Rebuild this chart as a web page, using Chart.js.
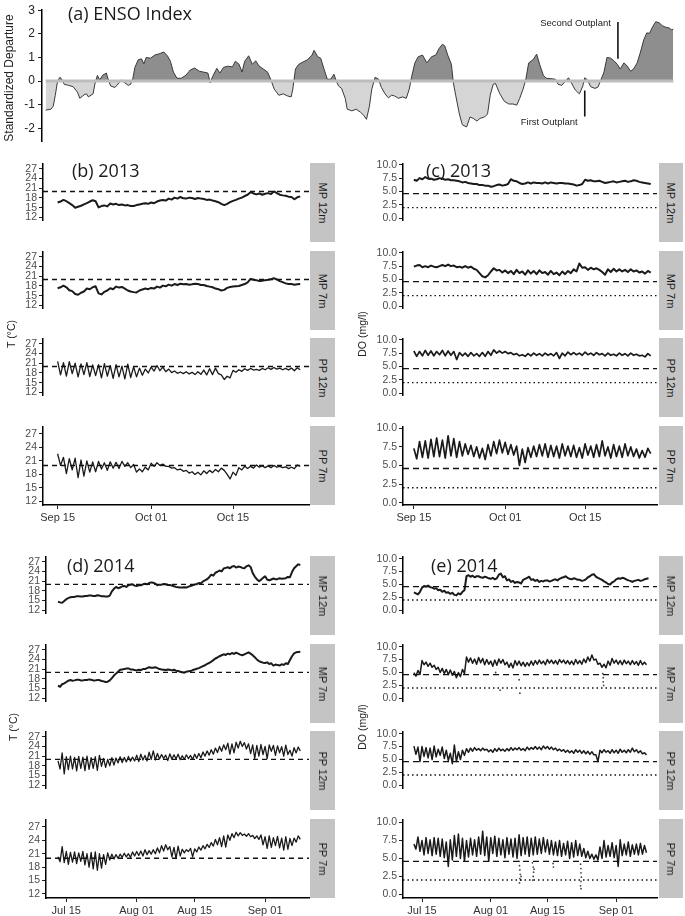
<!DOCTYPE html>
<html><head><meta charset="utf-8">
<script src="https://cdn.jsdelivr.net/npm/chart.js@4.4.1/dist/chart.umd.min.js"></script>
<style>
html,body{margin:0;padding:0;background:#fff;}
#wrap{position:relative;width:685px;height:916px;overflow:hidden;background:#fff;}
canvas{position:absolute;}
.title{position:absolute;font-family:'Open Sans',sans-serif;font-size:18px;line-height:18px;color:#1a1a1a;white-space:nowrap;}
.strip{position:absolute;background:#c4c4c4;}
.strip span{position:absolute;left:50%;top:50%;transform:translate(-50%,-50%) rotate(90deg);font-family:'Liberation Sans',Arial,sans-serif;font-size:11px;color:#1a1a1a;white-space:nowrap;}
.vt{position:absolute;transform:translate(-50%,-50%) rotate(-90deg);font-family:'Liberation Sans',Arial,sans-serif;color:#222;white-space:nowrap;}
</style></head>
<body><div id="wrap"></div>
<script>
// ================= DATA =================
// (a) ENSO index: months since Jan 2000 and standardized departure
const ENSO_MONTHS = [2.0,3.6,4.3,4.9,5.6,6.3,6.9,7.6,8.9,10.3,11.6,12.3,13.6,14.3,14.9,16.3,16.9,17.6,18.3,19.2,20.3,20.9,21.6,22.9,24.3,24.9,25.9,26.9,27.6,28.3,28.9,29.9,30.9,31.6,32.3,33.6,34.9,36.3,37.6,38.7,39.6,40.5,41.6,42.9,44.3,45.6,46.9,48.3,49.6,50.9,51.6,52.3,53.6,54.5,55.6,56.9,58.3,59.2,60.3,61.2,62.0,63.2,64.3,65.3,66.3,67.6,68.9,69.9,70.9,72.3,73.6,74.9,76.0,76.5,77.3,78.3,79.6,80.9,82.3,82.9,84.0,84.9,85.9,86.9,87.9,88.9,89.6,90.3,91.2,92.3,92.9,94.3,95.6,96.9,97.9,98.7,99.6,100.3,101.3,102.3,103.2,104.3,105.3,106.3,107.2,108.3,109.6,110.7,111.6,112.3,113.3,114.3,115.6,116.9,118.3,119.6,120.5,121.6,122.3,123.2,124.3,124.9,125.6,126.7,127.6,128.9,129.9,130.9,132.0,132.9,134.3,135.2,136.0,136.9,137.6,138.9,140.3,141.6,142.9,144.0,144.9,145.9,146.7,147.6,148.9,150.0,150.9,152.0,152.9,154.3,155.6,156.5,157.6,158.7,159.6,160.5,161.6,162.9,163.9,164.5,165.3,166.3,167.6,168.5,169.3,170.3,171.2,172.3,173.3,174.3,175.2,176.3,177.3,178.3,179.2,180.3,181.3,182.3,183.2,184.0,184.9,185.9,186.9,187.9,188.9,189.9,190.7,191.2];
const ENSO_VALUES = [-1.23,-1.19,-1.06,-0.6,0,0.16,0.08,-0.14,-0.18,-0.24,-0.47,-0.73,-0.58,-0.54,-0.67,-0.54,-0.08,0.24,0.05,0.25,0.34,0.05,-0.21,-0.27,-0.05,0.05,-0.08,-0.18,-0.14,0.12,0.58,0.9,0.94,0.73,1.0,0.97,1.1,1.16,1.23,1.07,0.84,0.38,0.12,0.12,0.25,0.47,0.55,0.42,0.38,0.34,-0.08,0.18,0.54,0.34,0.58,0.63,0.6,0.84,0.71,0.38,0.84,1.07,0.71,0.86,0.64,0.51,0.38,0.05,-0.34,-0.6,-0.54,-0.63,-0.67,-0.34,0.51,0.71,0.81,0.9,1.1,1.3,1.03,0.97,0.51,0.08,0.08,0.29,0,-0.21,-0.31,-0.73,-1.19,-1.26,-1.19,-1.32,-1.45,-1.62,-1.06,-0.34,0.16,0.09,-0.27,-0.54,-0.71,-0.6,-0.63,-0.73,-0.67,-0.73,-0.34,0.18,0.77,1.03,1.1,0.77,1.03,1.1,1.36,1.56,1.49,1.1,0.71,-0.08,-0.6,-1.39,-1.85,-1.94,-1.52,-1.58,-1.69,-1.58,-1.52,-1.39,-0.6,-0.14,-0.1,-0.54,-0.86,-0.97,-0.97,-1.02,-0.73,-0.34,0.05,0.77,0.9,1.14,0.71,0.25,0.12,0.1,0.08,-0.14,-0.18,0,0.14,-0.08,-0.37,-0.54,-0.21,0.14,0.05,-0.24,-0.31,-0.25,0.03,0.38,1.0,0.97,0.86,0.71,0.51,0.77,0.64,0.42,0.51,0.77,1.23,1.75,2.04,2.02,2.28,2.51,2.47,2.34,2.28,2.25,2.17,2.2];
const ENSO_TICKS = [-2,-1,0,1,2,3];
const OUTPLANT_NAMES = ['First Outplant','Second Outplant'];
const OUTPLANT_MONTHS = [164.5,174.5];
const OUTPLANT_FROM = [-0.4,2.5];
const OUTPLANT_TO = [-1.5,0.94];
const OUTPLANT_LABEL_Y = [-1.75,2.46];

const SITES = ['MP 12m','MP 7m','PP 12m','PP 7m'];
const T_TICKS = [12,15,18,21,24,27];
const DO_TICKS = [0,2.5,5,7.5,10];
const T_THRESHOLD = 20;
const DO_THRESHOLD_HIGH = 4.6;
const DO_THRESHOLD_LOW = 2.0;
const DAYS_2013 = [0,16,30];
const LABELS_2013 = ['Sep 15','Oct 01','Oct 15'];
const DAYS_2014 = [0,17,31,48];
const LABELS_2014 = ['Jul 15','Aug 01','Aug 15','Sep 01'];
const START_2013 = 0;   // day of first reading (days after Sep 15, 2013)
const START_2014 = -2;  // day of first reading (days after Jul 15, 2014)
const STEP_DAYS = 0.5;  // readings every half day

// 2013 temperature (deg C)
const T13_MP12 = [16.6,16.9,17.4,17.0,16.4,15.8,15.0,15.3,15.6,16.0,16.4,16.9,17.3,17.0,15.1,15.5,15.7,15.4,16.3,16.0,16.2,15.8,16.0,15.7,15.8,15.5,15.5,15.8,16.0,16.2,16.4,16.2,16.6,16.4,16.9,17.2,17.4,17.2,17.8,17.5,18.1,17.8,18.3,17.9,17.8,18.1,18.0,17.7,18.0,17.8,17.7,17.4,17.5,17.2,17.0,16.7,16.2,15.8,16.2,16.7,17.1,17.4,17.8,18.1,18.6,19.0,19.8,19.4,19.1,19.4,19.0,19.3,19.5,19.2,20.0,19.5,19.0,18.8,18.7,18.4,18.3,17.6,18.2,18.5];
const T13_MP7 = [17.3,17.6,18.1,17.6,16.7,16.4,15.5,15.3,15.9,16.3,17.2,17.0,17.6,17.9,15.7,15.4,16.2,16.6,17.3,17.0,17.8,17.5,17.7,17.2,16.6,16.3,16.1,16.0,16.6,16.9,17.2,17.0,17.4,17.2,17.8,17.5,18.1,17.9,18.4,18.1,18.6,18.3,18.7,18.5,18.6,18.4,18.5,18.7,18.6,18.3,18.3,18.0,17.8,17.6,17.2,17.0,16.6,16.8,17.4,17.7,17.8,17.9,18.0,18.3,18.6,19.1,20.2,19.9,19.8,19.5,19.6,19.8,19.9,20.1,20.4,20.0,19.5,19.2,18.8,18.6,18.6,18.4,18.5,18.6];
const T13_PP12 = [21.6,17.4,21.2,17.0,21.5,17.8,21.0,16.8,20.8,17.5,21.2,16.9,20.5,17.2,20.6,16.5,20.9,17.0,20.3,16.3,20.6,16.8,20.1,16.2,20.7,16.6,19.9,16.8,19.5,17.3,19.2,18.0,19.8,18.6,20.3,18.7,19.8,18.4,19.2,18.1,18.6,17.9,18.3,17.8,18.4,17.7,18.2,17.5,18.4,17.6,18.9,17.4,19.3,17.5,19.5,17.8,17.4,16.0,17.0,16.5,18.8,18.2,19.0,18.5,19.3,18.8,19.4,18.9,19.1,18.8,19.4,19.0,19.6,19.1,19.7,19.2,19.5,19.0,19.4,18.9,19.5,18.7,19.6,19.0];
const T13_PP7 = [22.6,20.0,21.8,18.2,21.5,19.0,21.6,17.3,21.2,17.6,21.0,18.5,20.8,18.6,20.9,19.2,20.6,18.9,20.8,19.4,20.7,19.3,20.9,19.8,20.6,19.5,20.2,18.5,19.2,18.6,19.6,19.0,20.5,19.8,20.6,20.0,20.3,19.8,19.8,19.4,19.5,19.0,19.2,18.7,18.9,18.3,18.6,18.0,18.5,17.9,18.8,18.2,18.9,18.4,19.1,18.6,19.4,18.9,18.0,17.0,18.5,17.8,19.5,19.0,19.8,19.3,19.8,19.4,20.1,19.6,19.9,19.5,19.9,19.5,20.0,19.6,19.8,19.5,19.7,19.3,19.6,19.3,20.1,19.8];
// 2013 dissolved oxygen (mg/l)
const DO13_MP12 = [7.2,7.0,7.5,7.3,7.7,7.4,7.4,7.2,7.3,7.5,7.4,7.2,7.3,7.1,7.1,7.0,6.9,6.7,6.8,6.6,6.5,6.4,6.4,6.2,6.2,6.1,6.1,5.9,6.0,6.2,6.3,6.1,6.2,6.4,7.3,7.0,6.9,6.6,6.4,6.5,6.7,6.5,6.7,6.6,6.6,6.5,6.7,6.5,6.7,6.6,6.5,6.6,6.6,6.5,6.5,6.4,6.3,6.1,6.2,6.4,7.2,7.0,7.1,6.9,6.9,7.0,6.8,6.6,6.7,6.8,6.9,6.7,6.8,6.9,7.0,6.8,6.9,7.1,7.0,6.8,6.7,6.6,6.5,6.4];
const DO13_MP7 = [7.4,7.6,7.7,7.3,7.5,7.3,7.6,7.4,7.3,7.5,7.7,7.5,7.8,7.5,7.6,7.3,7.4,7.2,7.5,7.2,7.4,7.0,6.8,6.2,5.6,5.4,5.8,6.5,7.1,6.7,6.8,6.3,6.7,6.2,6.6,6.0,6.8,6.2,6.5,5.9,6.7,6.1,6.6,6.0,6.7,6.2,6.4,5.9,6.6,6.0,6.3,5.8,6.5,6.0,6.6,6.2,6.9,6.5,8.0,7.2,7.3,6.8,7.2,6.9,7.1,6.8,6.4,5.9,6.9,6.4,7.0,6.5,6.9,6.5,6.8,6.4,6.9,6.5,6.7,6.3,6.5,6.1,6.6,6.3];
const DO13_PP12 = [7.9,6.9,7.8,7.0,8.0,7.1,7.9,7.0,7.8,7.2,8.0,7.0,7.9,7.1,7.8,6.3,7.6,7.0,7.5,6.9,7.6,7.0,7.4,6.9,7.6,6.9,7.8,7.1,8.1,7.5,7.9,7.5,7.8,7.4,7.6,7.2,7.4,7.0,7.2,6.9,7.4,7.0,7.5,7.1,7.4,7.0,7.5,7.1,7.4,7.0,7.6,6.5,7.5,7.0,7.7,7.2,7.6,7.2,7.5,7.1,7.7,7.2,7.5,7.1,7.6,7.2,7.4,7.0,7.5,7.1,7.3,7.0,7.5,7.1,7.4,7.0,7.5,7.1,7.3,7.0,7.1,6.8,7.4,7.0];
const DO13_PP7 = [7.3,5.9,8.2,6.1,8.3,6.0,8.5,6.2,8.7,6.2,8.4,6.0,9.0,6.3,8.6,6.1,8.2,6.3,7.9,6.5,7.7,6.2,7.5,6.0,7.3,5.8,7.8,6.3,8.2,6.6,8.4,6.7,8.1,6.5,7.8,6.4,7.6,5.0,7.2,5.4,7.4,6.1,7.6,6.2,7.8,6.3,7.9,6.1,7.7,6.2,7.6,6.0,7.9,6.3,7.6,6.2,7.7,6.1,7.4,6.0,7.9,6.4,7.6,6.1,7.8,6.2,8.3,6.3,7.5,6.0,7.8,6.2,7.6,6.1,7.9,6.3,7.5,6.2,7.2,6.0,7.0,6.1,7.3,6.6];
// 2014 temperature (deg C)
const T14_MP12 = [14.6,14.4,14.3,14.8,15.4,15.7,16.0,16.1,16.1,16.3,16.3,16.2,16.2,16.4,16.4,16.5,16.5,16.4,16.4,16.6,16.5,16.3,16.3,16.2,16.2,16.5,17.8,18.6,19.2,18.8,19.0,19.4,19.5,19.2,19.7,19.9,20.0,19.6,19.5,19.7,19.7,20.0,20.2,20.0,20.4,20.6,20.5,20.2,19.7,19.9,19.9,20.1,20.0,19.8,19.8,19.6,19.4,19.2,19.1,19.0,19.0,19.1,19.0,19.3,19.5,19.7,19.9,20.1,20.4,20.3,20.9,21.2,21.6,22.2,23.0,22.7,23.6,23.9,24.3,24.0,24.9,25.1,25.3,25.0,25.5,25.7,25.2,25.5,25.4,25.1,25.0,25.6,25.9,25.4,23.5,22.4,21.6,21.0,21.4,22.0,22.5,21.5,21.2,21.5,21.8,21.6,21.6,21.9,21.7,21.8,21.9,22.3,22.2,23.8,25.0,25.6,26.2,26.0];
const T14_MP7 = [15.9,15.5,16.3,16.6,17.0,17.4,17.6,17.4,17.5,17.7,17.7,17.5,17.5,17.6,17.6,17.8,17.7,17.5,17.5,17.6,17.6,17.3,17.2,17.0,17.1,17.5,18.2,19.0,19.6,20.2,20.8,20.9,21.0,21.2,21.2,20.9,20.9,20.7,20.6,20.8,20.7,21.0,21.0,21.3,21.6,21.4,21.4,21.6,21.3,21.0,20.9,20.8,20.7,20.9,20.8,20.6,20.8,20.5,20.4,20.2,20.0,19.9,20.2,20.3,20.4,20.7,20.9,21.1,21.3,21.6,21.9,22.2,22.6,22.9,23.3,23.8,24.3,24.6,25.0,25.3,25.6,25.4,25.8,25.6,26.0,25.7,26.1,25.8,25.5,25.3,25.6,25.9,26.2,25.8,25.3,24.7,24.0,23.5,23.2,23.0,22.9,23.1,22.6,22.8,22.1,22.4,22.3,22.1,22.5,22.3,22.8,22.6,23.8,25.0,25.9,26.2,26.3,26.4];
const T14_PP12 = [19.5,17.0,22.0,15.5,20.8,16.8,21.0,17.0,20.6,16.4,20.9,17.2,20.7,16.5,21.0,16.9,20.5,17.2,20.8,16.6,21.2,17.8,20.3,17.5,20.0,18.0,20.5,18.2,20.4,18.9,20.8,19.0,20.6,19.2,20.9,19.4,20.7,19.5,21.3,19.3,21.6,19.8,21.2,19.5,22.2,20.0,22.6,19.8,21.8,20.1,21.5,20.3,21.3,19.6,21.7,20.0,21.4,20.2,21.6,19.9,21.1,20.0,21.4,20.2,21.2,20.0,21.6,20.3,21.8,20.5,22.3,21.0,22.6,21.3,23.0,21.6,23.5,22.1,24.0,22.5,24.5,23.0,25.0,21.6,24.8,22.0,25.3,23.5,25.6,24.0,25.2,23.2,24.8,21.8,24.5,20.3,24.3,21.0,24.6,21.5,24.0,20.2,24.5,22.5,24.3,21.2,24.2,22.0,23.9,21.0,24.4,21.5,22.8,21.0,23.6,22.0,23.8,22.6];
const T14_PP7 = [20.3,19.2,22.6,19.0,21.5,18.6,21.3,19.1,21.4,18.8,21.2,19.3,21.5,18.5,21.0,18.0,21.3,17.6,21.4,17.3,21.0,17.8,20.8,18.6,21.2,19.6,20.9,19.8,20.8,20.0,20.9,20.2,21.1,20.3,21.0,20.2,21.4,20.5,21.5,20.6,21.6,20.5,21.9,20.8,21.7,20.9,21.9,21.0,22.3,21.2,22.8,21.6,23.0,21.9,22.6,20.3,22.4,19.9,22.7,20.5,22.0,21.2,21.9,21.5,22.2,20.3,22.1,21.4,22.5,21.8,22.8,22.1,23.1,22.4,23.5,22.7,24.2,23.0,24.6,22.6,25.0,22.5,25.2,24.0,25.5,24.6,25.8,25.0,25.7,25.1,25.4,24.9,25.5,24.8,25.1,24.4,25.0,24.2,25.2,23.0,24.8,22.2,25.0,22.4,24.6,22.8,24.9,22.3,24.5,21.8,24.8,22.0,24.4,22.8,24.5,23.6,25.0,24.2];
// 2014 dissolved oxygen (mg/l)
const DO14_MP12 = [3.5,3.3,3.1,3.6,4.4,4.7,4.6,4.8,4.5,4.4,4.2,4.3,3.9,4.0,3.6,3.8,3.4,3.5,3.2,3.4,3.0,2.9,3.3,3.1,3.6,3.9,6.6,6.8,6.5,6.7,6.4,6.6,6.6,6.4,6.3,6.5,6.4,6.2,6.1,6.3,6.0,6.2,6.9,7.1,6.4,6.6,5.8,6.0,5.5,5.7,5.3,5.5,5.4,5.2,5.9,6.1,6.3,6.5,5.9,6.0,5.7,5.9,5.5,5.7,5.6,5.8,5.8,5.6,5.7,5.9,6.0,5.8,6.1,6.3,6.4,6.6,6.3,6.1,6.0,6.2,6.1,5.9,5.9,5.7,5.8,6.0,6.4,6.6,6.9,7.0,6.5,6.3,6.1,5.9,5.6,5.4,5.1,5.0,5.4,5.6,6.0,6.2,6.1,6.3,6.2,6.0,5.8,5.7,5.5,5.7,5.8,5.9,5.7,5.8,6.0,6.1,6.2];
const DO14_MP7 = [5.0,4.3,5.4,4.6,7.3,6.5,7.0,6.2,6.8,6.0,6.4,5.6,6.0,5.0,5.8,4.8,5.6,4.6,5.5,4.5,5.2,4.0,5.0,4.2,5.6,4.8,8.0,7.0,7.8,6.8,7.6,6.6,7.9,6.9,7.7,6.5,7.5,6.6,7.2,6.2,7.4,6.4,7.6,6.8,7.5,6.5,7.0,6.0,6.8,5.9,7.3,6.4,7.2,6.3,7.0,6.2,6.9,6.3,7.2,6.4,7.3,6.6,7.4,6.7,7.2,6.5,7.5,6.8,7.4,6.7,7.3,6.6,7.5,6.9,7.4,6.7,7.3,6.6,7.2,6.5,7.5,6.7,7.3,6.6,7.6,6.9,8.0,7.2,8.4,7.4,7.6,6.6,6.8,6.0,6.6,5.9,7.2,6.4,7.7,6.8,7.4,6.6,7.3,6.5,7.4,6.7,7.2,6.5,7.3,6.6,7.1,6.4,7.3,6.5,7.0,6.5];
const DO14_PP12 = [7.6,6.0,7.4,4.6,7.5,5.6,7.3,5.3,7.2,5.0,7.6,5.5,7.0,5.8,7.4,5.2,6.8,4.8,6.2,4.2,7.8,4.6,6.5,5.0,6.8,5.8,7.1,6.4,7.2,6.6,7.3,6.8,7.1,6.7,7.2,6.8,7.0,6.5,6.9,6.4,7.1,6.6,7.2,6.7,7.0,6.6,7.1,6.7,7.3,6.8,7.2,6.9,7.3,6.8,7.1,6.7,7.4,6.9,7.3,7.0,7.5,7.0,7.4,6.9,7.6,7.1,7.5,7.0,7.4,6.9,7.2,6.7,7.0,6.6,6.9,6.4,6.8,6.3,6.7,6.2,6.9,6.4,6.8,6.2,6.7,6.1,6.6,6.0,6.5,5.9,5.9,4.6,6.8,6.3,6.9,6.4,6.7,6.2,6.9,6.3,6.8,6.2,7.0,6.4,6.8,6.3,6.9,6.4,7.2,6.5,6.9,6.3,6.7,6.1,6.3,5.9];
const DO14_PP7 = [7.0,6.3,8.0,6.0,7.5,5.5,7.9,5.7,7.6,5.4,7.9,5.6,7.8,5.3,7.7,5.1,7.3,3.9,7.6,4.8,8.2,5.3,8.4,5.0,7.8,4.6,7.5,5.2,7.8,5.5,7.6,5.3,8.0,5.6,8.8,5.4,8.0,4.6,7.9,5.7,8.1,5.3,7.8,5.5,7.6,5.1,7.9,5.6,7.7,5.2,7.8,5.0,8.3,5.4,7.9,5.6,8.0,5.3,7.8,5.5,8.0,5.6,7.7,5.7,7.9,5.9,7.6,5.6,7.5,5.5,7.3,5.4,7.5,5.3,7.1,5.5,7.4,5.0,7.2,5.2,7.5,5.4,7.0,5.3,6.4,5.1,6.0,5.0,5.6,4.9,5.5,4.8,6.6,5.0,7.5,5.2,6.8,5.3,7.2,5.1,6.8,3.9,7.6,5.4,7.0,5.5,7.3,5.3,6.9,5.6,7.0,5.5,7.1,5.6,6.8,5.8];
// isolated low-DO readings (day, mg/l)
const DO14_MP7_LOW_DAYS = [18.2,19.3,24.0,24.2,44.7,44.8,44.8,44.9];
const DO14_MP7_LOW_VALUES = [5.0,1.6,3.6,1.0,4.8,4.0,3.2,2.5];
const DO14_PP7_LOW_DAYS = [24.0,24.1,24.2,24.3,24.2,24.1,24.4,24.5,27.3,27.5,27.6,27.5,27.4,27.7,32.4,32.5,39.2,39.3,39.3,39.4,39.3,39.2,39.3];
const DO14_PP7_LOW_VALUES = [4.6,4.0,3.4,2.8,2.2,1.6,2.0,2.5,4.4,3.8,3.1,2.5,2.0,3.5,4.3,3.8,4.2,3.6,3.0,2.4,1.8,1.2,0.8];

// ================= LAYOUT =================
const wrap = document.getElementById('wrap');
const PANEL_H = 79;
const TOPS_2013 = [163,251,338,426];
const TOPS_2014 = [556,644,731,819];
const COL_T = {cl:0, cw:345, right:309, stripX:310, stripW:25};
const COL_DO = {cl:345, cw:340, right:657, stripX:659, stripW:24, yW:58};
const INK = '#1a1a1a';
const TICK_FONT = {family:"'Liberation Sans', Arial, sans-serif", size:10.5};
const DATE_FONT = {family:"'Liberation Sans', Arial, sans-serif", size:11};

function addDiv(cls, text, css){
  const d = document.createElement('div');
  d.className = cls; d.textContent = text;
  Object.assign(d.style, css);
  wrap.appendChild(d); return d;
}
function addStrip(x, y, w, h, text){
  const d = document.createElement('div');
  d.className = 'strip';
  Object.assign(d.style, {left:x+'px', top:y+'px', width:w+'px', height:h+'px'});
  const s = document.createElement('span'); s.textContent = text; d.appendChild(s);
  wrap.appendChild(d);
}
function toXY(values, start, step){ return values.map((v,i)=>({x:start+i*step, y:v})); }
function pairs(xs, ys){ return xs.map((x,i)=>({x:x, y:ys[i]})); }

function facet(p){
  const padT = 8, axisH = 22;
  const ch = p.showX ? padT + PANEL_H + axisH + 4 : padT + PANEL_H + 8;
  const c = document.createElement('canvas');
  c.width = p.col.cw; c.height = ch;
  c.style.left = p.col.cl + 'px'; c.style.top = (p.top - padT) + 'px';
  c.style.width = p.col.cw + 'px'; c.style.height = ch + 'px';
  wrap.appendChild(c);
  const datasets = [];
  p.thresholds.forEach(t => datasets.push({
    data:[{x:p.xMin,y:t.v},{x:p.xMax,y:t.v}], borderColor:'#111', borderWidth:1.4,
    borderDash:t.dash, pointRadius:0, borderCapStyle:'butt'
  }));
  if (p.low) datasets.push({
    data:p.low, showLine:false, pointRadius:0.9, pointBorderWidth:0,
    pointBackgroundColor:'#444'
  });
  datasets.push({data:p.data, borderColor:INK, borderWidth:p.lw || 1.6, pointRadius:0, borderJoinStyle:'round'});
  new Chart(c, {
    type:'line',
    data:{datasets},
    options:{
      animation:false, responsive:false, events:[], parsing:false, normalized:true,
      layout:{padding:{left:0, top:padT, right:p.col.cw - (p.col.right - p.col.cl),
        bottom: ch - padT - PANEL_H - (p.showX ? axisH : 0)}},
      plugins:{legend:{display:false}, tooltip:{enabled:false}},
      scales:{
        x:{type:'linear', min:p.xMin, max:p.xMax, display:p.showX,
          afterBuildTicks:s=>{ s.ticks = p.xTicks.map(v=>({value:v})); },
          afterFit:s=>{ s.height = axisH; },
          ticks:{autoSkip:false, maxRotation:0, minRotation:0, padding:2, color:'#333', font:DATE_FONT,
            callback:(v,i)=>p.xLabels[i]},
          grid:{display:true, drawOnChartArea:false, drawTicks:true, tickLength:4, color:'#222', lineWidth:1},
          border:{display:true, color:'#000', width:1.5}},
        y:{type:'linear', min:p.yMin, max:p.yMax,
          afterBuildTicks:s=>{ s.ticks = p.yTicks.map(v=>({value:v})); },
          afterFit:s=>{ s.width = p.yW; },
          ticks:{autoSkip:false, padding:2, color:'#4d4d4d', font:TICK_FONT, callback:p.fmt},
          grid:{display:true, drawOnChartArea:false, drawTicks:true, tickLength:4, color:'#222', lineWidth:1},
          border:{display:true, color:'#000', width:1.5}}
      }
    }
  });
}

// ================= (a) ENSO =================
(function(){
  const c = document.createElement('canvas');
  c.width = 685; c.height = 152; c.style.left = '0px'; c.style.top = '0px';
  c.style.width = '685px'; c.style.height = '152px';
  wrap.appendChild(c);
  const enso = pairs(ENSO_MONTHS, ENSO_VALUES);
  const datasets = [
    {data:[{x:ENSO_MONTHS[0],y:0},{x:ENSO_MONTHS[ENSO_MONTHS.length-1],y:0}], borderColor:'#bdbdbd', borderWidth:3, pointRadius:0},
  ];
  OUTPLANT_MONTHS.forEach((m,i)=>datasets.push({
    data:[{x:m,y:OUTPLANT_FROM[i]},{x:m,y:OUTPLANT_TO[i]}], borderColor:'#111', borderWidth:1.6, pointRadius:0
  }));
  datasets.push({data:enso, borderColor:'#3a3a3a', borderWidth:1, pointRadius:0,
    fill:{target:{value:0}, above:'#8e8e8e', below:'#d5d5d5'}});
  const labelPlugin = {
    id:'outplantLabels',
    afterDatasetsDraw(chart){
      const ctx = chart.ctx, xs = chart.scales.x, ys = chart.scales.y;
      ctx.save();
      ctx.font = "9.5px 'Liberation Sans', Arial, sans-serif";
      ctx.fillStyle = '#222'; ctx.textAlign = 'right'; ctx.textBaseline = 'middle';
      OUTPLANT_NAMES.forEach((n,i)=>{
        ctx.fillText(n, xs.getPixelForValue(OUTPLANT_MONTHS[i]) - 7, ys.getPixelForValue(OUTPLANT_LABEL_Y[i]));
      });
      ctx.restore();
    }
  };
  new Chart(c, {
    type:'line', data:{datasets}, plugins:[labelPlugin],
    options:{
      animation:false, responsive:false, events:[], parsing:false,
      layout:{padding:{left:0, top:4, right:11, bottom:5}},
      plugins:{legend:{display:false}, tooltip:{enabled:false}},
      scales:{
        x:{type:'linear', min:0.9, max:191.4, display:false},
        y:{type:'linear', min:-2.57, max:3,
          afterBuildTicks:s=>{ s.ticks = ENSO_TICKS.map(v=>({value:v})); },
          afterFit:s=>{ s.width = 42; },
          ticks:{padding:3, color:'#222', font:{family:"'Liberation Sans', Arial, sans-serif", size:12}},
          grid:{display:true, drawOnChartArea:false, drawTicks:true, tickLength:4, color:'#222', lineWidth:1},
          border:{display:true, color:'#000', width:1.5}}
      }
    }
  });
})();

// ================= facets =================
const fmtT = v => String(v);
const fmtDO = v => v.toFixed(1);
const T13 = [T13_MP12, T13_MP7, T13_PP12, T13_PP7];
const DO13 = [DO13_MP12, DO13_MP7, DO13_PP12, DO13_PP7];
const T14 = [T14_MP12, T14_MP7, T14_PP12, T14_PP7];
const DO14 = [DO14_MP12, DO14_MP7, DO14_PP12, DO14_PP7];
const LOW14 = [null, pairs(DO14_MP7_LOW_DAYS, DO14_MP7_LOW_VALUES), null, pairs(DO14_PP7_LOW_DAYS, DO14_PP7_LOW_VALUES)];
const T_LINES = [{v:T_THRESHOLD, dash:[5,4]}];
const DO_LINES = [{v:DO_THRESHOLD_HIGH, dash:[6,4]}, {v:DO_THRESHOLD_LOW, dash:[1.5,3]}];

SITES.forEach((site, k)=>{
  const last = k === SITES.length - 1;
  // 2013 temperature
  facet({col:COL_T, top:TOPS_2013[k], yW:43, showX:last, xMin:-2.5, xMax:43.0, xTicks:DAYS_2013, xLabels:LABELS_2013,
    yMin:11.2, yMax:28.7, yTicks:T_TICKS, fmt:fmtT, thresholds:T_LINES,
    data:toXY(T13[k], START_2013, STEP_DAYS), lw: k>=2 ? 1.3 : 2.0});
  // 2013 oxygen
  facet({col:COL_DO, top:TOPS_2013[k], yW:COL_DO.yW, showX:last, xMin:-1.9, xMax:42.6, xTicks:DAYS_2013, xLabels:LABELS_2013,
    yMin:-0.32, yMax:10.27, yTicks:DO_TICKS, fmt:fmtDO, thresholds:DO_LINES,
    data:toXY(DO13[k], START_2013, STEP_DAYS), lw: k<2 ? 2.0 : 1.7});
  // 2014 temperature
  facet({col:COL_T, top:TOPS_2014[k], yW:46, showX:last, xMin:-4.9, xMax:58.6, xTicks:DAYS_2014, xLabels:LABELS_2014,
    yMin:11.1, yMax:28.7, yTicks:T_TICKS, fmt:fmtT, thresholds:T_LINES,
    data:toXY(T14[k], START_2014, STEP_DAYS), lw: k>=2 ? 1.3 : 2.0});
  // 2014 oxygen
  facet({col:COL_DO, top:TOPS_2014[k], yW:COL_DO.yW, showX:last, xMin:-4.7, xMax:58.1, xTicks:DAYS_2014, xLabels:LABELS_2014,
    yMin:-0.5, yMax:10.45, yTicks:DO_TICKS, fmt:fmtDO, thresholds:DO_LINES,
    data:toXY(DO14[k], START_2014, STEP_DAYS), low:LOW14[k], lw: k===0 ? 2.0 : 1.5});
  addStrip(COL_T.stripX, TOPS_2013[k], COL_T.stripW, PANEL_H, site);
  addStrip(COL_DO.stripX, TOPS_2013[k], COL_DO.stripW, PANEL_H, site);
  addStrip(COL_T.stripX, TOPS_2014[k], COL_T.stripW, PANEL_H, site);
  addStrip(COL_DO.stripX, TOPS_2014[k], COL_DO.stripW, PANEL_H, site);
});

// ================= text =================
addDiv('title', '(a) ENSO Index', {left:'68px', top:'4px'});
addDiv('title', '(b) 2013', {left:'72px', top:'161px'});
addDiv('title', '(c) 2013', {left:'426px', top:'161px'});
addDiv('title', '(d) 2014', {left:'67px', top:'556px'});
addDiv('title', '(e) 2014', {left:'431px', top:'556px'});
addDiv('vt', 'Standardized Departure', {left:'9px', top:'78px', fontSize:'12px'});
addDiv('vt', 'T (°C)', {left:'11px', top:'334px', fontSize:'10.5px'});
addDiv('vt', 'T (°C)', {left:'13px', top:'727px', fontSize:'10.5px'});
addDiv('vt', 'DO (mg/l)', {left:'362px', top:'334px', fontSize:'10.5px'});
addDiv('vt', 'DO (mg/l)', {left:'362px', top:'727px', fontSize:'10.5px'});
</script>
</body></html>
